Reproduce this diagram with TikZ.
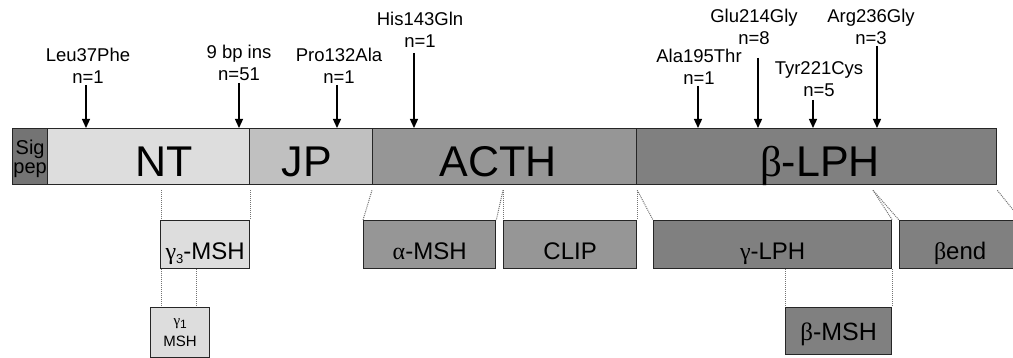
\documentclass[tikz,border=0pt]{standalone}
\usepackage{fontspec}
\setmainfont{Liberation Sans}
\newfontfamily\grk{Liberation Serif}
\usetikzlibrary{arrows.meta,calc}
\definecolor{sigc}{HTML}{747474}
\definecolor{ntc}{HTML}{DDDDDD}
\definecolor{jpc}{HTML}{C0C0C0}
\definecolor{acc}{HTML}{969696}
\definecolor{lpc}{HTML}{808080}
\begin{document}
\begin{tikzpicture}[x=1pt,y=-1pt,
  box/.style={draw=black!85, line width=1.3pt, rectangle, inner sep=0pt, anchor=north west},
  big/.style={font=\fontsize{43}{43}\selectfont, anchor=base, inner sep=0pt},
  mlab/.style={font=\fontsize{18.5}{22}\selectfont, align=center, inner sep=0pt, anchor=south, text depth=0pt},
  mut/.style={-{Triangle[length=9pt,width=8pt]}, line width=1.3pt},
  sub/.style={box, font=\fontsize{24}{24}\selectfont, text height=39pt, text depth=9pt},
  dots/.style={draw=black!55, line width=1pt, dash pattern=on 1pt off 1pt}]
\useasboundingbox (0,0) rectangle (1013,358);
\clip (0,0) rectangle (1013,358);
% main bar
\node[box, fill=sigc, minimum width=35pt, minimum height=56pt, font=\fontsize{20}{19}\selectfont, align=center, text depth=0pt] (sig) at (12,128) {Sig\\pep};
\node[box, fill=ntc, minimum width=202pt, minimum height=56pt] (nt) at (47,128) {};
\node[box, fill=jpc, minimum width=123pt, minimum height=56pt] (jp) at (249,128) {};
\node[box, fill=acc, minimum width=264pt, minimum height=56pt] (acth) at (372,128) {};
\node[box, fill=lpc, minimum width=360pt, minimum height=56pt] (lph) at (636,128) {};
\node[big] (ntl) at (164,177) {NT};
\node[big] (jpl) at (307,177) {JP};
\node[big] (acthl) at (498,177) {ACTH};
\node[big] (lphl) at (820,177) {{\grk β}-LPH};
% sub-peptides
\node[sub, fill=ntc, minimum width=89pt, minimum height=48pt] (g3) at (160,220) {{\grk γ}\raisebox{-4pt}{\fontsize{13}{13}\selectfont 3}-MSH};
\node[box, fill=ntc, minimum width=59pt, minimum height=50pt, font=\fontsize{15}{21}\selectfont, align=center] (g1) at (150,307) {{\grk\fontsize{15}{15}\selectfont γ}\raisebox{-3pt}{\fontsize{12}{12}\selectfont 1}\\MSH};
\node[sub, fill=acc, minimum width=132pt, minimum height=48pt] (amsh) at (363,220) {{\grk α}-MSH};
\node[sub, fill=acc, minimum width=133pt, minimum height=48pt] (clip) at (503,220) {CLIP};
\node[sub, fill=lpc, minimum width=238pt, minimum height=48pt] (glph) at (653,220) {{\grk γ}-LPH};
\node[sub, fill=lpc, minimum width=121pt, minimum height=48pt] (bend) at (899,220) {{\grk β}end};
\node[box, fill=lpc, minimum width=106pt, minimum height=47pt, font=\fontsize{25}{25}\selectfont, text height=33pt, text depth=14pt] (bmsh) at (785,307) {{\grk β}-MSH};
% dotted cleavage lines
\coordinate (c1) at ($(g3.north west |- nt.south)+(1,5)$);
\coordinate (c2) at ($(g3.north east |- nt.south)+(0,5)$);
\draw[dots] (c1) -- ($(g3.north west)+(1,0)$);
\draw[dots] (c2) -- (g3.north east);
\coordinate (c3) at ($(g3.south west)+(1,0)$);
\coordinate (c4) at ($(g3.south west)!0.4!(g3.south east)$);
\draw[dots] (c3) -- (c3 |- g1.north);
\draw[dots] (c4) -- (c4 |- g1.north);
\coordinate (c5) at ($(acth.south west)+(0,5)$);
\coordinate (c6) at ($(clip.north west |- acth.south)+(0,5)$);
\coordinate (c7) at ($(acth.south east)+(0,5)$);
\draw[dots] (c5) -- (amsh.north west);
\draw[dots] (c6) -- (amsh.north east);
\draw[dots] (c6) -- (clip.north west);
\draw[dots] (c7) -- (clip.north east);
\draw[dots] (c7) -- (glph.north west);
\coordinate (c8) at ($(lph.south west)+(237,5)$);
\coordinate (c9) at ($(lph.south east)+(0,5)$);
\draw[dots] (c8) -- (glph.north east);
\draw[dots] (c8) -- (bend.north west);
\draw[dots] (c9) -- (bend.north east);
\coordinate (c10) at (bmsh.north west |- glph.south);
\coordinate (c11) at (bmsh.north east |- glph.south);
\draw[dots] (c10) -- (bmsh.north west);
\draw[dots] (c11) -- (bmsh.north east);
% mutations
\node[mlab] (l1) at (88,84) {Leu37Phe\\n=1};
\node[mlab] (l2) at (239,81) {9 bp ins\\n=51};
\node[mlab] (l3) at (339,84) {Pro132Ala\\n=1};
\node[mlab] (l4) at (420,48) {His143Gln\\n=1};
\node[mlab] (l5) at (699,85) {Ala195Thr\\n=1};
\node[mlab] (l6) at (754,45) {Glu214Gly\\n=8};
\node[mlab] (l7) at (819,97) {Tyr221Cys\\n=5};
\node[mlab] (l8) at (871,45) {Arg236Gly\\n=3};
\coordinate (s1) at (86,85);
\coordinate (s2) at (239,83);
\coordinate (s3) at (337,85);
\coordinate (s4) at (414,53);
\coordinate (s5) at (698,86);
\coordinate (s6) at (758,58);
\coordinate (s7) at (813,100);
\coordinate (s8) at (877,46);
\draw[mut] (s1) -- (s1 |- nt.north);
\draw[mut] (s2) -- (s2 |- nt.north);
\draw[mut] (s3) -- (s3 |- jp.north);
\draw[mut] (s4) -- (s4 |- acth.north);
\draw[mut] (s5) -- (s5 |- lph.north);
\draw[mut] (s6) -- (s6 |- lph.north);
\draw[mut] (s7) -- (s7 |- lph.north);
\draw[mut] (s8) -- (s8 |- lph.north);
\end{tikzpicture}
\end{document}
